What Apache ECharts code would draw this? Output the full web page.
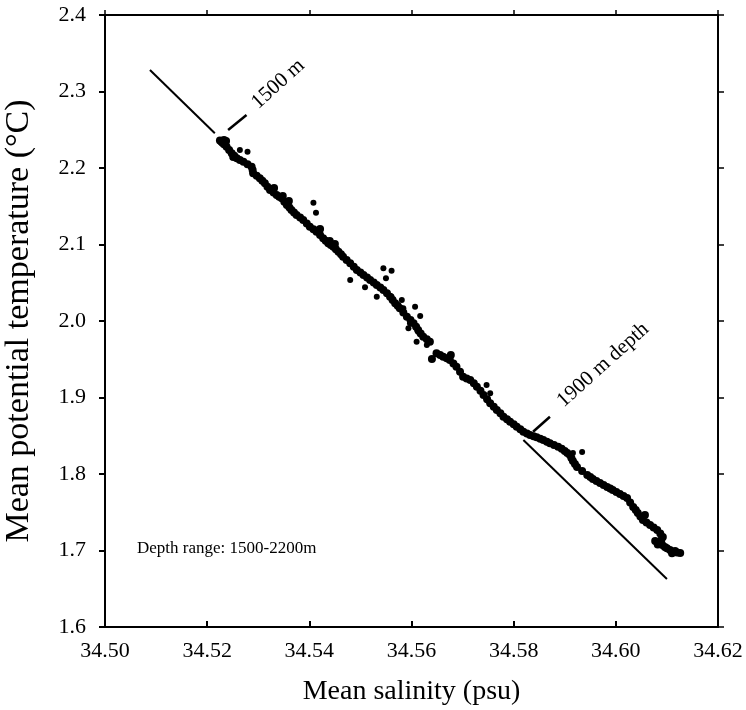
<!DOCTYPE html>
<html>
<head>
<meta charset="utf-8">
<script src="https://cdn.jsdelivr.net/npm/echarts@6/dist/echarts.min.js"></script>
<style>
html,body{margin:0;padding:0;background:#fff;}
#chart{width:746px;height:710px;}
</style>
</head>
<body>
<div id="chart"></div>
<script>
// ---- data ----
// main dense band of points (1500 m at upper left → 2200 m at lower right)
const bandSalinity = [34.5228,34.5233,34.5237,34.5238,34.5248,34.5251,34.5258,34.5271,34.5287,34.5290,34.5303,34.5313,34.5323,34.5331,34.5336,34.5346,34.5348,34.5356,34.5360,34.5365,34.5375,34.5388,34.5401,34.5414,34.5421,34.5427,34.5437,34.5440,34.5447,34.5450,34.5457,34.5466,34.5480,34.5493,34.5506,34.5519,34.5532,34.5545,34.5558,34.5568,34.5577,34.5591,34.5604,34.5613,34.5623,34.5636,34.5640,34.5649,34.5662,34.5677,34.5675,34.5688,34.5701,34.5715,34.5728,34.5741,34.5754,34.5767,34.5780,34.5793,34.5806,34.5819,34.5832,34.5845,34.5858,34.5871,34.5887,34.5900,34.5910,34.5916,34.5924,34.5944,34.5955,34.5969,34.5983,34.5994,34.6008,34.6022,34.6034,34.6043,34.6053,34.6057,34.6067,34.6081,34.6077,34.6092,34.6086,34.6096,34.6106,34.6116,34.6126,
  34.5233,34.5243,34.5253,34.5264,34.5279,34.5289,34.5297,34.5308,34.5318,34.5330,34.5341,34.5351,34.5361,34.5370,34.5382,34.5395,34.5408,34.5421,34.5432,34.5442,34.5452,34.5462,34.5473,34.5487,34.5500,34.5513,34.5526,34.5539,34.5552,34.5563,34.5573,34.5584,34.5598,34.5609,34.5618,34.5630,34.5656,34.5669,34.5682,34.5695,34.5708,34.5722,34.5735,34.5748,34.5761,34.5774,34.5787,34.5800,34.5813,34.5826,34.5839,34.5852,34.5865,34.5879,34.5894,34.5905,34.5934,34.6028,34.6087,
  34.5225,34.5230,34.5913,34.5920,34.5950,34.5962,34.5976,34.5989,34.6001,34.6015,34.6039,34.6048,34.6060,34.6074,34.6089,34.6091,34.6100,34.6120,34.6110,34.6082];
const bandTemperature = [2.2344,2.2366,2.2353,2.2278,2.2192,2.2144,2.2127,2.2082,2.2017,2.1931,2.1865,2.1800,2.1712,2.1739,2.1647,2.1604,2.1634,2.1516,2.1569,2.1451,2.1386,2.1320,2.1233,2.1167,2.1203,2.1081,2.1016,2.1046,2.0971,2.1006,2.0906,2.0841,2.0754,2.0667,2.0601,2.0536,2.0471,2.0405,2.0318,2.0231,2.0166,2.0056,1.9970,1.9882,1.9795,1.9729,1.9503,1.9578,1.9533,1.9556,1.9490,1.9403,1.9272,1.9229,1.9141,1.9033,1.8924,1.8837,1.8749,1.8684,1.8618,1.8553,1.8510,1.8480,1.8444,1.8401,1.8357,1.8301,1.8248,1.8170,1.8091,1.7987,1.7935,1.7882,1.7830,1.7791,1.7739,1.7686,1.7569,1.7490,1.7399,1.7465,1.7333,1.7268,1.7124,1.7176,1.7098,1.7046,1.7006,1.6993,1.6967,
  2.2311,2.2235,2.2160,2.2104,2.2050,2.1974,2.1898,2.1832,2.1756,2.1680,2.1625,2.1560,2.1484,2.1418,2.1353,2.1276,2.1200,2.1124,2.1048,2.0994,2.0938,2.0874,2.0798,2.0710,2.0634,2.0568,2.0504,2.0438,2.0362,2.0274,2.0198,2.0111,2.0013,1.9926,1.9838,1.9762,1.9556,1.9512,1.9446,1.9338,1.9250,1.9185,1.9087,1.8978,1.8880,1.8793,1.8716,1.8651,1.8585,1.8531,1.8495,1.8462,1.8422,1.8379,1.8329,1.8274,1.8039,1.7628,1.7222,
  2.2360,2.2330,1.8209,1.8130,1.7961,1.7908,1.7856,1.7810,1.7765,1.7712,1.7530,1.7445,1.7366,1.7300,1.7137,1.7072,1.7030,1.6975,1.6965,1.7080];
// scattered individual points off the band
const outlierSalinity = [34.5264,34.5279,34.5408,34.5413,34.5480,34.5509,34.5545,34.5561,34.5550,34.5532,34.5561,34.5581,34.5584,34.5607,34.5617,34.5597,34.5594,34.5613,34.5610,34.5630,34.5747,34.5754,34.5916,34.5934];
const outlierTemperature = [2.2235,2.2213,2.1546,2.1416,2.0536,2.0440,2.0689,2.0657,2.0558,2.0318,2.0318,2.0275,2.0166,2.0187,2.0065,1.9970,1.9905,1.9860,1.9729,1.9686,1.9163,1.9055,1.8275,1.8288];
const refLineUpperSalinity = [34.5088, 34.5215];
const refLineUpperTemperature = [2.3281, 2.2454];
const refLineLowerSalinity = [34.5819, 34.6100];
const refLineLowerTemperature = [1.8444, 1.6627];
const leader1500Salinity = [34.5241, 34.5277];
const leader1500Temperature = [2.2497, 2.2693];
const leader1900Salinity = [34.5838, 34.5871];
const leader1900Temperature = [1.8553, 1.8749];
const xTicks = [34.50, 34.52, 34.54, 34.56, 34.58, 34.60, 34.62];
const yTicks = [1.6, 1.7, 1.8, 1.9, 2.0, 2.1, 2.2, 2.3, 2.4];
const label1500 = {text: '1500 m', sal: 34.5339, temp: 2.3098};
const label1900 = {text: '1900 m depth', sal: 34.5975, temp: 1.9425};
const depthNote = 'Depth range: 1500-2200m';

const zip = (a, b) => a.map((v, i) => [v, b[i]]);
const FONT = '"Liberation Serif", "Times New Roman", serif';

const chart = echarts.init(document.getElementById('chart'), null, {renderer: 'canvas'});
function seg(sx, sy, w) {
  return {type: 'line', data: zip(sx, sy), showSymbol: false, symbol: 'none',
    lineStyle: {color: '#000', width: w, opacity: 1}, silent: true, z: 3, animation: false};
}
const axisCommon = {
  axisLine: {show: true, onZero: false, lineStyle: {color: '#000', width: 2}},
  splitLine: {show: false}
};
chart.setOption({
  backgroundColor: '#fff',
  animation: false,
  grid: {left: 105, top: 15, right: 28, bottom: 83, containLabel: false, outerBoundsMode: 'none'},
  xAxis: [{
    type: 'value', min: xTicks[0], max: xTicks[xTicks.length - 1], interval: 0.02,
    position: 'bottom',
    ...axisCommon,
    axisTick: {show: true, inside: true, length: 6, lineStyle: {color: '#000', width: 2}},
    axisLabel: {color: '#000', fontFamily: FONT, fontSize: 22, margin: 13,
      formatter: v => v.toFixed(2)},
    name: 'Mean salinity (psu)', nameLocation: 'middle', nameGap: 51,
    nameTextStyle: {color: '#000', fontFamily: FONT, fontSize: 28}
  }, {
    type: 'value', min: xTicks[0], max: xTicks[xTicks.length - 1], interval: 0.02,
    position: 'top',
    ...axisCommon,
    axisTick: {show: true, inside: false, length: 5, lineStyle: {color: '#000', width: 1.5}},
    axisLabel: {show: false}
  }],
  yAxis: [{
    type: 'value', min: yTicks[0], max: yTicks[yTicks.length - 1], interval: 0.1,
    position: 'left',
    ...axisCommon,
    axisTick: {show: true, inside: false, length: 6, lineStyle: {color: '#000', width: 2}},
    axisLabel: {color: '#000', fontFamily: FONT, fontSize: 22, margin: 19,
      formatter: v => v.toFixed(1)},
    name: 'Mean potential temperature (°C)', nameLocation: 'middle', nameGap: 69,
    nameTextStyle: {color: '#000', fontFamily: FONT, fontSize: 34}
  }, {
    type: 'value', min: yTicks[0], max: yTicks[yTicks.length - 1], interval: 0.1,
    position: 'right',
    ...axisCommon,
    axisTick: {show: true, inside: false, length: 6, lineStyle: {color: '#000', width: 1.5}},
    axisLabel: {show: false}
  }],
  series: [
    {type: 'scatter', data: zip(bandSalinity, bandTemperature), symbol: 'circle', symbolSize: 8,
      itemStyle: {color: '#000', opacity: 1}, z: 4, silent: true},
    {type: 'scatter', data: zip(outlierSalinity, outlierTemperature), symbol: 'circle', symbolSize: 6,
      itemStyle: {color: '#000', opacity: 1}, z: 4, silent: true},
    seg(refLineUpperSalinity, refLineUpperTemperature, 2),
    seg(refLineLowerSalinity, refLineLowerTemperature, 2),
    seg(leader1500Salinity, leader1500Temperature, 2.5),
    seg(leader1900Salinity, leader1900Temperature, 2.5)
  ]
});

const p1 = chart.convertToPixel({gridIndex: 0}, [label1500.sal, label1500.temp]);
const p2 = chart.convertToPixel({gridIndex: 0}, [label1900.sal, label1900.temp]);
const rot = 42 * Math.PI / 180;
chart.setOption({
  graphic: [
    {type: 'text', x: p1[0], y: p1[1], rotation: rot, z: 10,
      style: {text: label1500.text, align: 'center', verticalAlign: 'middle',
        font: '21px ' + FONT, fill: '#000'}},
    {type: 'text', x: p2[0], y: p2[1], rotation: rot, z: 10,
      style: {text: label1900.text, align: 'center', verticalAlign: 'middle',
        font: '21px ' + FONT, fill: '#000'}},
    {type: 'text', x: 137, y: 549, z: 10,
      style: {text: depthNote, align: 'left', verticalAlign: 'middle',
        font: '17px ' + FONT, fill: '#000'}}
  ]
});
</script>
</body>
</html>
